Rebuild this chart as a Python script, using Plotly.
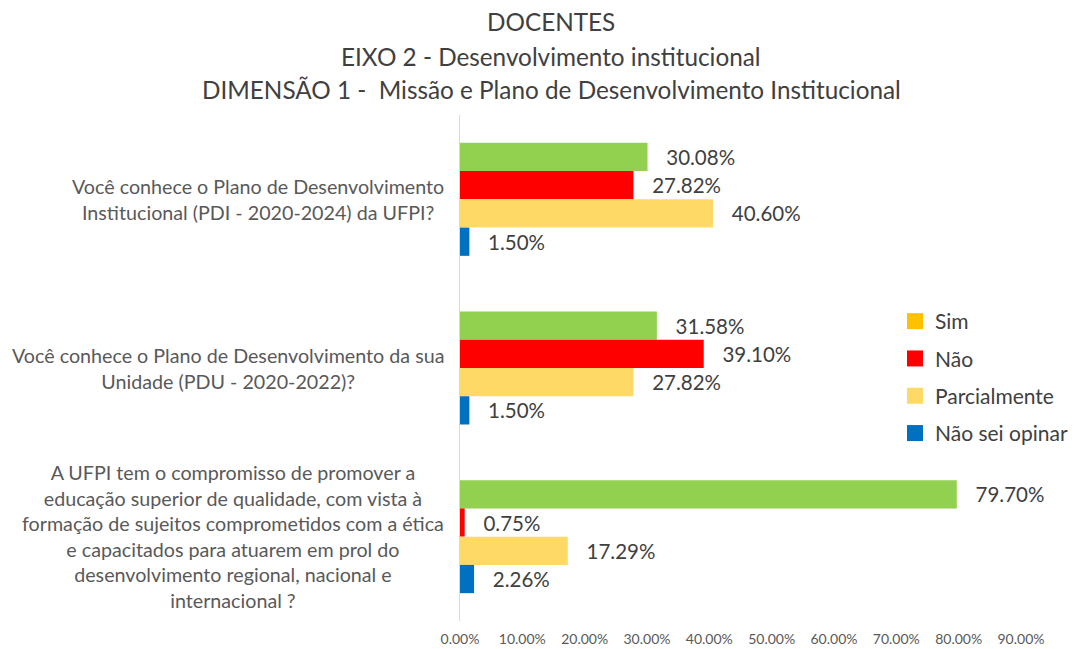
import plotly.graph_objects as go

categories = [
    "Você conhece o Plano de Desenvolvimento<br>Institucional (PDI - 2020-2024) da UFPI?",
    "Você conhece o Plano de Desenvolvimento da sua<br>Unidade (PDU - 2020-2022)?",
    "A UFPI tem o compromisso de promover a<br>educação superior de qualidade, com vista à<br>formação de sujeitos comprometidos com a ética<br>e capacitados para atuarem em prol do<br>desenvolvimento regional, nacional e<br>internacional ?",
]
series_names = ["Sim", "Não", "Parcialmente", "Não sei opinar"]
sim = [30.08, 31.58, 79.70]
nao = [27.82, 39.10, 0.75]
parcialmente = [40.60, 27.82, 17.29]
nao_sei = [1.50, 1.50, 2.26]
tick_vals = [0, 10, 20, 30, 40, 50, 60, 70, 80, 90]
tick_text = ["0.00%", "10.00%", "20.00%", "30.00%", "40.00%", "50.00%", "60.00%", "70.00%", "80.00%", "90.00%"]
title_lines = ["DOCENTES", "EIXO 2 - Desenvolvimento institucional", "DIMENSÃO 1 -  Missão e Plano de Desenvolvimento Institucional"]

bar_colors = ["#92D050", "#FF0000", "#FFD966", "#0070C0"]
legend_colors = ["#FFC000", "#FF0000", "#FFD966", "#0070C0"]
FONT = "Lato"

OFF = 8  # page body margin
W, H = 1078 - OFF, 649 - OFF
# target page coordinates of plot area
px0, px1, py0, py1 = 460, 1021, 115, 621
ml = px0 - OFF
mr = W + OFF - px1
mt = py0 - OFF
mb = H + OFF - py1
pw = px1 - px0
ph = py1 - py0

fig = go.Figure()
for name, vals, col in zip(series_names, [sim, nao, parcialmente, nao_sei], bar_colors):
    fig.add_trace(go.Bar(
        y=categories, x=vals, orientation="h", name=name,
        marker=dict(color=col, line=dict(width=0)),
        text=[f"\u00a0\u00a0\u00a0{v:.2f}%" for v in vals],
        textposition="outside", cliponaxis=False,
        textfont=dict(family=FONT, size=20.5, color="#404040"),
        showlegend=False, hoverinfo="x+name",
    ))

for i, (name, col) in enumerate(zip(series_names, legend_colors)):
    fig.add_trace(go.Scatter(
        x=[None], y=[None], mode="markers", name=name,
        marker=dict(symbol="square", size=16, color=col),
        legendgroup=f"g{i}", showlegend=True,
    ))

annotations = []
for c in categories:
    annotations.append(dict(
        x=(446 - px0) / pw, xref="paper", y=c, yref="y", xanchor="right", yanchor="middle",
        text=c, showarrow=False, align="center",
        font=dict(family=FONT, size=19.7, color="#595959"),
    ))
title_y = [22, 56, 89]
for t, yy in zip(title_lines, title_y):
    annotations.append(dict(
        x=(551 - px0) / pw, xref="paper", y=1 + (py0 - yy) / ph, yref="paper",
        xanchor="center", yanchor="middle", text=t, showarrow=False,
        font=dict(family=FONT, size=24.3, color="#404040"),
    ))

fig.update_layout(
    width=W, height=H,
    margin=dict(l=ml, r=mr, t=mt, b=mb, autoexpand=False),
    paper_bgcolor="white", plot_bgcolor="white",
    barmode="group", bargap=0.33, bargroupgap=0,
    annotations=annotations,
    font=dict(family=FONT, color="#595959"),
    legend=dict(
        x=(895 - px0) / pw, y=1 - (301 - py0) / ph, xanchor="left", yanchor="top",
        font=dict(family=FONT, size=21, color="#404040"),
        tracegroupgap=7, bgcolor="rgba(0,0,0,0)",
    ),
    xaxis=dict(
        range=[0, 90], tickvals=tick_vals, ticktext=tick_text,
        showgrid=False, zeroline=False, showline=False,
        tickfont=dict(family=FONT, size=14, color="#595959"), ticks="",
        ticklabelstandoff=8,
    ),
    yaxis=dict(
        autorange="reversed", showticklabels=False, ticks="",
        showgrid=False, zeroline=False,
        showline=True, linecolor="#D9D9D9", linewidth=1,
    ),
)

fig.write_html("out.html")
